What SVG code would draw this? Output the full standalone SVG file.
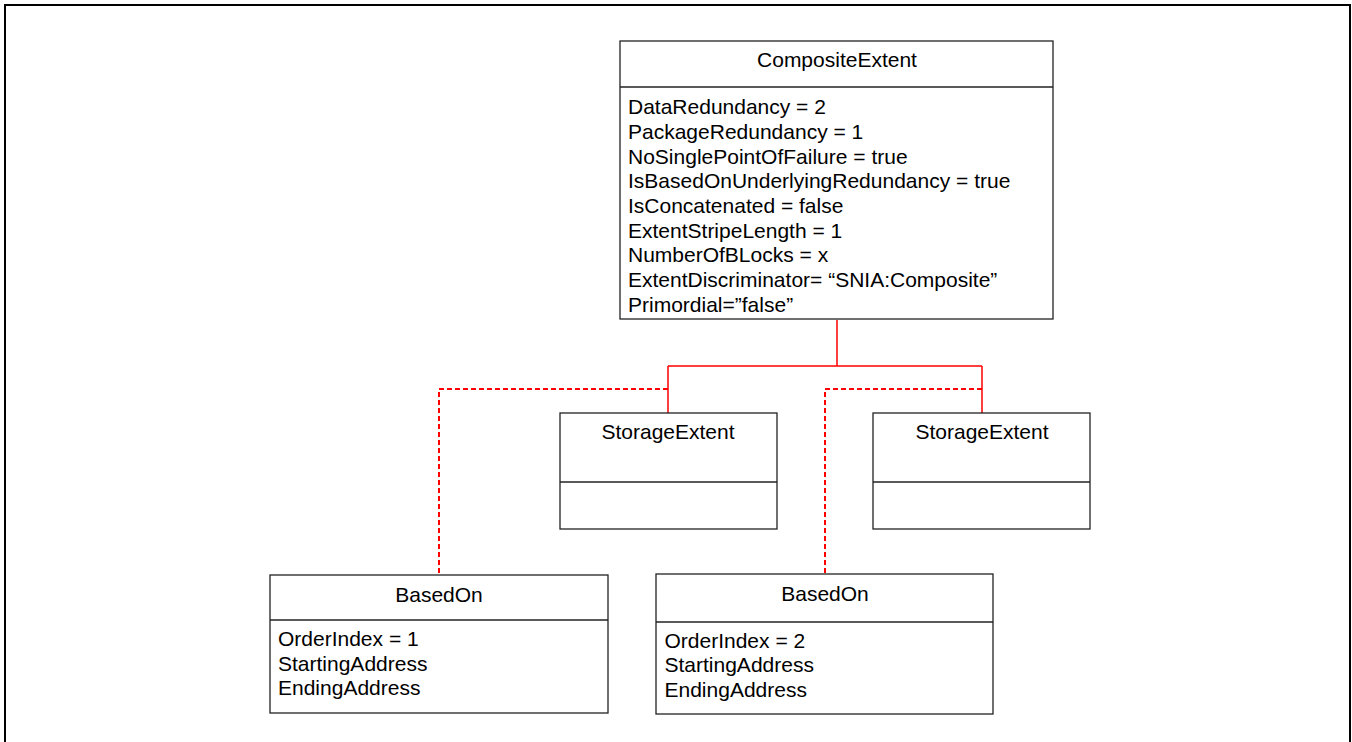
<svg xmlns="http://www.w3.org/2000/svg" width="1352" height="742" viewBox="0 0 1352 742">
<style>
.box{fill:#fff;stroke:#222;stroke-width:1.3}
.div{stroke:#222;stroke-width:1.3}
.t{font-family:"Liberation Sans",Arial,sans-serif;font-size:21px;fill:#000}
.c{text-anchor:middle}
.solid{fill:none;stroke:#ff0000;stroke-width:1.5}
.dash{fill:none;stroke:#ff0000;stroke-width:2;stroke-dasharray:5,3}
</style>
<rect x="0" y="0" width="1352" height="742" fill="#fff"/>
<rect x="5" y="5" width="1345" height="760" fill="none" stroke="#000" stroke-width="2"/>
<g id="connectors">
<path class="solid" d="M837 320 V366 M668 366 H982 M668 366 V413 M982 366 V413"/>
<path class="dash" d="M668 389 H439 V575"/>
<path class="dash" d="M982 389 H825 V574"/>
</g>
<g id="composite-extent">
<rect class="box" x="620" y="41" width="433" height="278"/>
<line class="div" x1="620" y1="87" x2="1053" y2="87"/>
<text class="t c" x="837" y="67">CompositeExtent</text>
<text class="t" x="628" y="114.3">DataRedundancy = 2</text>
<text class="t" x="628" y="139">PackageRedundancy = 1</text>
<text class="t" x="628" y="163.7">NoSinglePointOfFailure = true</text>
<text class="t" x="628" y="188.3">IsBasedOnUnderlyingRedundancy = true</text>
<text class="t" x="628" y="213">IsConcatenated = false</text>
<text class="t" x="628" y="237.7">ExtentStripeLength = 1</text>
<text class="t" x="628" y="262.3">NumberOfBLocks = x</text>
<text class="t" x="628" y="287">ExtentDiscriminator= “SNIA:Composite”</text>
<text class="t" x="628" y="311.7">Primordial=”false”</text>
</g>
<g id="storage-extent-1">
<rect class="box" x="560" y="413" width="217" height="116"/>
<line class="div" x1="560" y1="482" x2="777" y2="482"/>
<text class="t c" x="668" y="439">StorageExtent</text>
</g>
<g id="storage-extent-2">
<rect class="box" x="873" y="413" width="217" height="116"/>
<line class="div" x1="873" y1="482" x2="1090" y2="482"/>
<text class="t c" x="982" y="439">StorageExtent</text>
</g>
<g id="based-on-1">
<rect class="box" x="270" y="575" width="338" height="138"/>
<line class="div" x1="270" y1="620" x2="608" y2="620"/>
<text class="t c" x="439" y="601.5">BasedOn</text>
<text class="t" x="278" y="646">OrderIndex = 1</text>
<text class="t" x="278" y="670.5">StartingAddress</text>
<text class="t" x="278" y="695">EndingAddress</text>
</g>
<g id="based-on-2">
<rect class="box" x="656" y="574" width="337" height="140"/>
<line class="div" x1="656" y1="622" x2="993" y2="622"/>
<text class="t c" x="825" y="600.5">BasedOn</text>
<text class="t" x="664.5" y="647.5">OrderIndex = 2</text>
<text class="t" x="664.5" y="672">StartingAddress</text>
<text class="t" x="664.5" y="696.5">EndingAddress</text>
</g>
</svg>
